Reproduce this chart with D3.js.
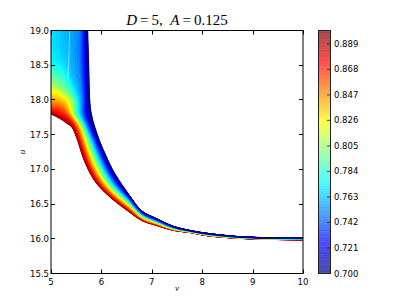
<!DOCTYPE html>
<html>
<head>
<meta charset="utf-8">
<script src="https://cdn.jsdelivr.net/npm/d3@7"></script>
<style>
  body { margin: 0; background: #fff; }
  svg { display: block; }
</style>
</head>
<body>
<svg width="407" height="305"></svg>
<script>
/* global d3 */

// contour levels, red (inner) edge first
const levels = [0.90, 0.875, 0.85, 0.825, 0.80, 0.775, 0.75, 0.725, 0.70];

// one [v, u] polyline per level; point i of every curve sits on the same cross-section
const c900 = [[4.7, 17.80], [5.0, 17.79], [5.1, 17.76], [5.24, 17.70], [5.33, 17.652], [5.41, 17.61], [5.535, 17.4], [5.62, 17.2], [5.735, 17.0], [5.90, 16.8], [6.17, 16.60], [6.55, 16.387], [6.8, 16.263], [7.1, 16.19], [7.43, 16.12], [7.76, 16.09], [8.09, 16.045], [8.75, 16.005], [9.41, 15.99], [10.0, 15.985], [10.3, 15.985]];
const c875 = [[4.7, 17.88], [5.0, 17.85], [5.1, 17.83], [5.22, 17.79], [5.36, 17.72], [5.48, 17.61], [5.589, 17.4], [5.679, 17.2], [5.796, 17.0], [5.961, 16.8], [6.207, 16.615], [6.55, 16.418], [6.8, 16.280], [7.1, 16.2025], [7.43, 16.1275], [7.76, 16.094], [8.09, 16.049], [8.75, 16.008], [9.41, 15.993], [10.0, 15.988], [10.3, 15.988]];
const c850 = [[4.7, 18.0], [5.0, 17.96], [5.1, 17.95], [5.22, 17.93], [5.35, 17.81], [5.54, 17.61], [5.644, 17.4], [5.738, 17.2], [5.856, 17.0], [6.023, 16.8], [6.244, 16.630], [6.55, 16.449], [6.8, 16.298], [7.1, 16.215], [7.43, 16.135], [7.76, 16.0975], [8.09, 16.054], [8.75, 16.011], [9.41, 15.996], [10.0, 15.991], [10.3, 15.991]];
const c825 = [[4.7, 18.18], [5.0, 18.13], [5.1, 18.10], [5.32, 18.0], [5.42, 17.81], [5.60, 17.61], [5.698, 17.4], [5.796, 17.2], [5.917, 17.0], [6.084, 16.8], [6.281, 16.645], [6.55, 16.479], [6.8, 16.315], [7.1, 16.2275], [7.43, 16.1425], [7.76, 16.101], [8.09, 16.058], [8.75, 16.014], [9.41, 15.999], [10.0, 15.994], [10.3, 15.994]];
const c800 = [[4.7, 18.35], [5.0, 18.28], [5.1, 18.24], [5.45, 18.0], [5.48, 17.81], [5.64, 17.61], [5.753, 17.4], [5.855, 17.2], [5.978, 17.0], [6.145, 16.8], [6.319, 16.660], [6.55, 16.510], [6.8, 16.333], [7.1, 16.24], [7.43, 16.15], [7.76, 16.105], [8.09, 16.0625], [8.75, 16.0175], [9.41, 16.0025], [10.0, 15.9975], [10.3, 15.9975]];
const c775 = [[4.7, 19.4], [5.0, 18.53], [5.18, 18.48], [5.53, 18.0], [5.56, 17.81], [5.69, 17.61], [5.807, 17.4], [5.914, 17.2], [6.038, 17.0], [6.206, 16.8], [6.356, 16.675], [6.55, 16.541], [6.8, 16.350], [7.1, 16.2525], [7.43, 16.1575], [7.76, 16.109], [8.09, 16.067], [8.75, 16.021], [9.41, 16.006], [10.0, 16.001], [10.3, 16.001]];
const c750 = [[5.58, 19.4], [5.58, 19.0], [5.58, 18.5], [5.63, 18.0], [5.63, 17.81], [5.74, 17.61], [5.861, 17.4], [5.973, 17.2], [6.099, 17.0], [6.268, 16.8], [6.393, 16.690], [6.55, 16.572], [6.8, 16.367], [7.1, 16.265], [7.43, 16.165], [7.76, 16.1125], [8.09, 16.071], [8.75, 16.024], [9.41, 16.009], [10.0, 16.004], [10.3, 16.004]];
const c725 = [[5.67, 19.4], [5.67, 19.0], [5.68, 18.5], [5.70, 18.0], [5.70, 17.81], [5.80, 17.61], [5.916, 17.4], [6.031, 17.2], [6.159, 17.0], [6.329, 16.8], [6.430, 16.705], [6.55, 16.602], [6.8, 16.385], [7.1, 16.2775], [7.43, 16.1725], [7.76, 16.116], [8.09, 16.076], [8.75, 16.027], [9.41, 16.012], [10.0, 16.007], [10.3, 16.007]];
const c700 = [[5.73, 19.4], [5.73, 19.0], [5.75, 18.5], [5.77, 18.0], [5.80, 17.81], [5.87, 17.61], [5.97, 17.4], [6.09, 17.2], [6.22, 17.0], [6.39, 16.8], [6.467, 16.720], [6.55, 16.633], [6.8, 16.403], [7.1, 16.29], [7.43, 16.18], [7.76, 16.12], [8.09, 16.08], [8.75, 16.03], [9.41, 16.015], [10.0, 16.01], [10.3, 16.01]];
const curves = [c900, c875, c850, c825, c800, c775, c750, c725, c700];

// white dotted seam near the top of the band
const seam = [[5.37, 19.0], [5.36, 18.75], [5.35, 18.5], [5.33, 18.28]];

const xTicks = [5, 6, 7, 8, 9, 10];
const yTicks = [15.5, 16.0, 16.5, 17.0, 17.5, 18.0, 18.5, 19.0];
const cbTicks = [0.700, 0.721, 0.742, 0.763, 0.784, 0.805, 0.826, 0.847, 0.868, 0.889];
const cbRange = [0.70, 0.90];
const cbBands = 95;
const subSteps = 12;

const svg = d3.select('svg');
const plot = { left: 51, right: 303, top: 30.5, bottom: 273.5 };

const x = d3.scaleLinear().domain([5, 10]).range([plot.left, plot.right]);
const y = d3.scaleLinear().domain([15.5, 19]).range([plot.bottom, plot.top]);
const jet = d3.scaleLinear()
      .domain([0, 0.125, 0.375, 0.625, 0.875, 1])
      .range(['#000080', '#0000ff', '#00ffff', '#ffff00', '#ff0000', '#800000']);
const zNorm = d3.scaleLinear().domain(cbRange).range([0, 1]);
const color = z => jet(zNorm(z));

svg.append('defs').append('clipPath').attr('id', 'plotclip')
  .append('rect')
  .attr('x', plot.left).attr('y', plot.top)
  .attr('width', plot.right - plot.left).attr('height', plot.bottom - plot.top);

const line = d3.line()
      .x(d => x(d[0]))
      .y(d => y(d[1]))
      .curve(d3.curveCatmullRom.alpha(0.5));

const mix = (a, b, f) => a.map((p, i) => [p[0] + (b[i][0] - p[0]) * f, p[1] + (b[i][1] - p[1]) * f]);

const bands = [];
for (let k = 0; k < curves.length - 1; k++) {
  for (let j = 0; j < subSteps; j++) {
    const p0 = mix(curves[k], curves[k + 1], j / subSteps);
    const p1 = mix(curves[k], curves[k + 1], (j + 1) / subSteps);
    const z = levels[k] + (levels[k + 1] - levels[k]) * (j + 0.5) / subSteps;
    bands.push({ p0, p1, z });
  }
}

const field = svg.append('g').attr('clip-path', 'url(#plotclip)');

field.selectAll('path.band')
  .data(bands)
  .enter()
  .append('path')
  .attr('class', 'band')
  .attr('d', d => `${line(d.p0)}L${line(d.p1.slice().reverse()).slice(1)}Z`)
  .style('fill', d => color(d.z))
  .style('stroke', d => color(d.z))
  .style('stroke-width', '0.6px');

field.append('path')
  .attr('d', d3.line().x(d => x(d[0])).y(d => y(d[1]))(seam))
  .style('fill', 'none')
  .style('stroke', '#fff')
  .style('stroke-width', '1px')
  .style('stroke-dasharray', '1,1');

// frame
const frame = svg.append('g').style('stroke', '#000').style('fill', 'none');
frame.append('line').attr('x1', plot.left).attr('x2', plot.right).attr('y1', plot.top).attr('y2', plot.top);
frame.append('line').attr('x1', plot.left).attr('x2', plot.right).attr('y1', plot.bottom).attr('y2', plot.bottom);
frame.append('line').attr('x1', plot.left).attr('x2', plot.left).attr('y1', plot.top - 0.5).attr('y2', plot.bottom + 0.5);
frame.append('line').attr('x1', plot.right).attr('x2', plot.right).attr('y1', plot.top - 0.5).attr('y2', plot.bottom + 0.5);

// ticks pointing in, on all four sides
const tickLen = 4;
xTicks.forEach(t => {
  const px = Math.round(x(t)) + 0.5;
  frame.append('line').attr('x1', px).attr('x2', px).attr('y1', plot.bottom).attr('y2', plot.bottom - tickLen);
  frame.append('line').attr('x1', px).attr('x2', px).attr('y1', plot.top).attr('y2', plot.top + tickLen);
});
yTicks.forEach(t => {
  const py = Math.round(y(t) - 0.5) + 0.5;
  frame.append('line').attr('x1', plot.left).attr('x2', plot.left + tickLen).attr('y1', py).attr('y2', py);
  frame.append('line').attr('x1', plot.right).attr('x2', plot.right - tickLen).attr('y1', py).attr('y2', py);
});

const labelFont = '"DejaVu Sans", sans-serif';

svg.selectAll('text.xtick')
  .data(xTicks)
  .enter()
  .append('text')
  .attr('class', 'xtick')
  .attr('x', d => x(d))
  .attr('y', plot.bottom + 11)
  .attr('text-anchor', 'middle')
  .style('font-family', labelFont)
  .style('font-size', '8.5px')
  .text(d => d);

svg.selectAll('text.ytick')
  .data(yTicks)
  .enter()
  .append('text')
  .attr('class', 'ytick')
  .attr('x', plot.left - 2)
  .attr('y', d => y(d) + 3)
  .attr('text-anchor', 'end')
  .style('font-family', labelFont)
  .style('font-size', '8.5px')
  .text(d => d.toFixed(1));

// axis labels and title
svg.append('text')
  .attr('x', (plot.left + plot.right) / 2)
  .attr('y', 291)
  .attr('text-anchor', 'middle')
  .style('font-family', '"Liberation Serif", serif')
  .style('font-style', 'italic')
  .style('font-size', '9px')
  .text('v');

svg.append('text')
  .attr('transform', `translate(25,${(plot.top + plot.bottom) / 2}) rotate(-90)`)
  .attr('text-anchor', 'middle')
  .style('font-family', '"Liberation Serif", serif')
  .style('font-style', 'italic')
  .style('font-size', '9px')
  .text('u');

const title = svg.append('text')
  .attr('x', (plot.left + plot.right) / 2)
  .attr('y', 25)
  .attr('text-anchor', 'middle')
  .style('font-family', '"Liberation Serif", serif')
  .style('font-size', '15px');
title.append('tspan').style('font-style', 'italic').text('D');
title.append('tspan').text('\u2009=\u20095,\u2002');
title.append('tspan').style('font-style', 'italic').text('A');
title.append('tspan').text('\u2009=\u20090.125');

// colorbar
const cb = { left: 318, right: 331 };
const cbY = d3.scaleLinear().domain(cbRange).range([plot.bottom, plot.top]);
const cbStep = (cbRange[1] - cbRange[0]) / cbBands;
const cbLevels = d3.range(cbBands).map(i => cbRange[0] + i * cbStep);

const bar = svg.append('g');
bar.selectAll('rect')
  .data(cbLevels)
  .enter()
  .append('rect')
  .attr('x', cb.left)
  .attr('width', cb.right - cb.left)
  .attr('y', d => cbY(d + cbStep))
  .attr('height', d => cbY(d) - cbY(d + cbStep))
  .style('fill', d => color(d + cbStep / 2))
  .style('fill-opacity', 0.68);

bar.selectAll('line.sep')
  .data(cbLevels.slice(1))
  .enter()
  .append('line')
  .attr('class', 'sep')
  .attr('x1', cb.left).attr('x2', cb.right)
  .attr('y1', d => cbY(d)).attr('y2', d => cbY(d))
  .style('stroke', d => color(d))
  .style('stroke-opacity', 0.45)
  .style('stroke-width', '0.8px');

bar.append('rect')
  .attr('x', cb.left + 0.5)
  .attr('y', plot.top)
  .attr('width', cb.right - cb.left - 1)
  .attr('height', plot.bottom - plot.top)
  .style('fill', 'none')
  .style('stroke', '#222')
  .style('stroke-width', '1px');

cbTicks.forEach(t => {
  bar.append('line')
    .attr('x1', cb.right - 4).attr('x2', cb.right)
    .attr('y1', cbY(t)).attr('y2', cbY(t))
    .style('stroke', '#222')
    .style('stroke-width', '0.8px');
});

svg.selectAll('text.cbtick')
  .data(cbTicks)
  .enter()
  .append('text')
  .attr('class', 'cbtick')
  .attr('x', cb.right + 3)
  .attr('y', d => cbY(d) + 3)
  .style('font-family', labelFont)
  .style('font-size', '8.5px')
  .text(d => d.toFixed(3));
</script>
</body>
</html>
